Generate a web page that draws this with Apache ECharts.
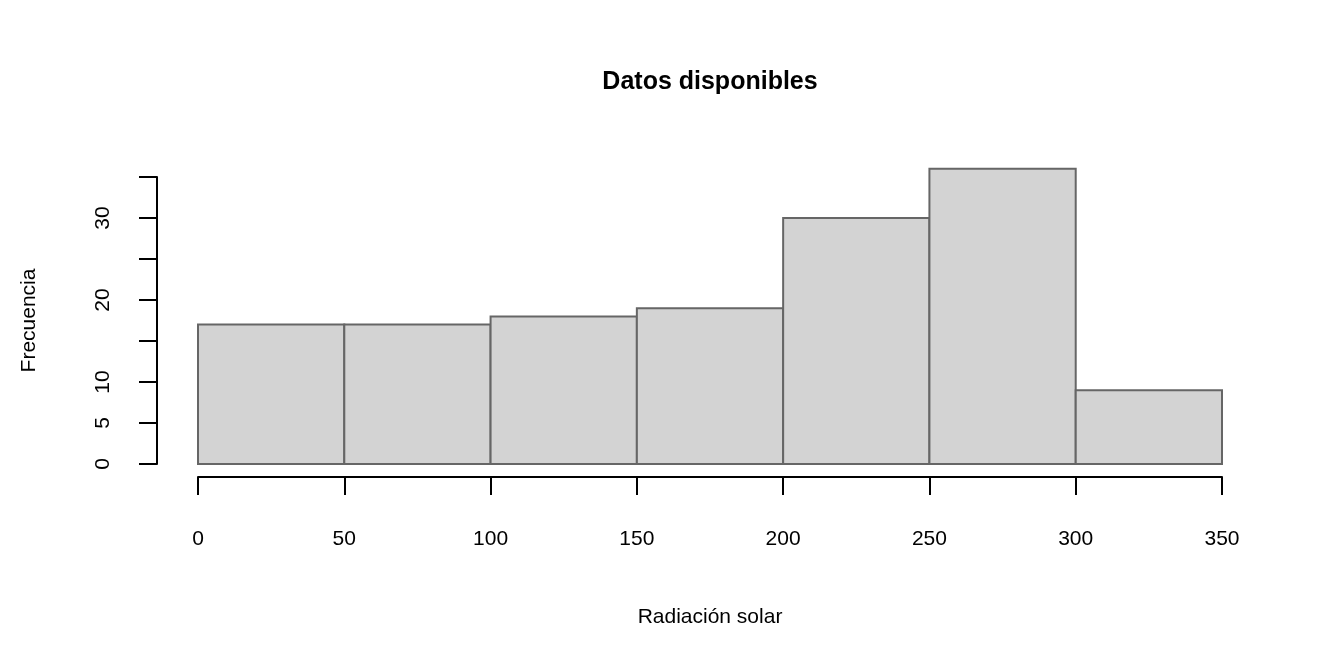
<!DOCTYPE html>
<html>
<head>
<meta charset="utf-8">
<script src="https://cdn.jsdelivr.net/npm/echarts@6/dist/echarts.min.js"></script>
<style>html,body{margin:0;padding:0;background:#fff}#c{width:1344px;height:672px}</style>
</head>
<body>
<div id="c"></div>
<script>
const binStarts = [0, 50, 100, 150, 200, 250, 300];
const binWidth = 50;
const counts = [17, 17, 18, 19, 30, 36, 9];
const yLabelsShown = [0, 5, 10, 20, 30];
const titleText = 'Datos disponibles';
const xName = 'Radiación solar';
const yName = 'Frecuencia';

const chart = echarts.init(document.getElementById('c'));
const font = '"Liberation Sans", Arial, sans-serif';
const X_MIN = 0, X_MAX = 350, Y_MIN = 0, Y_MAX = 35;
const lineStyle = { color: '#000', width: 2 };
const hiddenX = (gi) => ({ type: 'value', gridIndex: gi, min: X_MIN, max: X_MAX, show: false });
const hiddenY = (gi) => ({ type: 'value', gridIndex: gi, min: Y_MIN, max: Y_MAX, show: false });

chart.setOption({
  backgroundColor: '#fff',
  animation: false,
  title: {
    text: titleText, left: 705, top: 65, textAlign: 'center',
    textStyle: { fontFamily: font, fontSize: 25, fontWeight: 'bold', color: '#000' }
  },
  grid: [
    { left: 198, right: 122, top: 177, bottom: 208, outerBoundsMode: 'none', containLabel: false },
    { left: 157, right: 163, top: 177, bottom: 208, outerBoundsMode: 'none', containLabel: false },
    { left: 198, right: 122, top: 190, bottom: 195, outerBoundsMode: 'none', containLabel: false }
  ],
  xAxis: [
    hiddenX(0),
    hiddenX(1),
    {
      type: 'value', gridIndex: 2, min: X_MIN, max: X_MAX, interval: 50,
      name: xName, nameLocation: 'middle', nameGap: 130,
      nameTextStyle: { fontFamily: font, fontSize: 21, color: '#000' },
      axisLine: { show: true, lineStyle },
      axisTick: { show: true, length: 18, lineStyle },
      axisLabel: { margin: 52, fontFamily: font, fontSize: 21, color: '#000' },
      splitLine: { show: false }
    }
  ],
  yAxis: [
    hiddenY(0),
    {
      type: 'value', gridIndex: 1, min: Y_MIN, max: Y_MAX, interval: 5,
      name: yName, nameLocation: 'middle', nameGap: 117, nameRotate: 90,
      nameTextStyle: { fontFamily: font, fontSize: 21, color: '#000' },
      axisLine: { show: true, lineStyle },
      axisTick: { show: true, length: 18, lineStyle },
      axisLabel: {
        margin: 43, rotate: 90, fontFamily: font, fontSize: 21, color: '#000',
        formatter: v => yLabelsShown.includes(v) ? String(v) : ''
      },
      splitLine: { show: false }
    },
    hiddenY(2)
  ],
  series: [{
    type: 'custom',
    xAxisIndex: 0, yAxisIndex: 0,
    data: binStarts.map((s, i) => [s, s + binWidth, counts[i]]),
    encode: { x: [0, 1], y: 2 },
    renderItem: (params, api) => {
      const p0 = api.coord([api.value(0), 0]);
      const p1 = api.coord([api.value(1), api.value(2)]);
      return {
        type: 'rect',
        shape: { x: p0[0], y: p1[1], width: p1[0] - p0[0], height: p0[1] - p1[1] },
        style: { fill: '#d3d3d3', stroke: '#666666', lineWidth: 2 }
      };
    }
  }]
});
</script>
</body>
</html>
